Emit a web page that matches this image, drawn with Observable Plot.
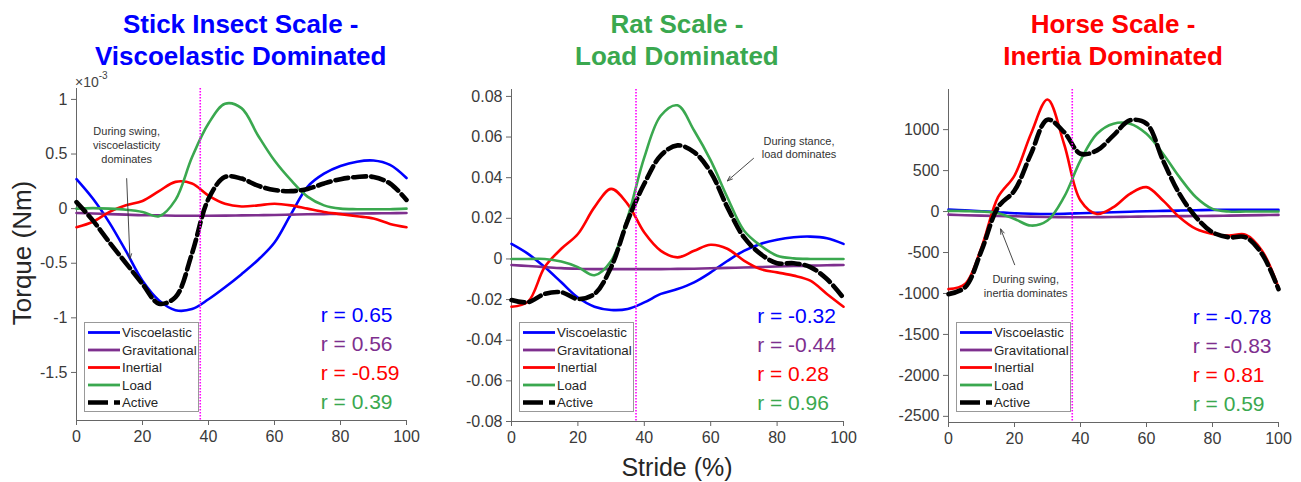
<!DOCTYPE html>
<html><head><meta charset="utf-8">
<script src="https://cdn.jsdelivr.net/npm/d3@7"></script>
<script src="https://cdn.jsdelivr.net/npm/@observablehq/plot@0.6"></script>
<style>
body{margin:0;background:#fff;font-family:"Liberation Sans",Arial,sans-serif;}
#wrap{position:relative;width:1301px;height:482px;overflow:hidden;background:#fff;}
.title{position:absolute;width:420px;font-weight:bold;font-size:26px;line-height:32px;text-align:center;white-space:nowrap;top:8px;}
.panel{position:absolute;top:0;}
.lbl{position:absolute;color:#262626;white-space:nowrap;}
</style></head>
<body><div id="wrap"></div>
<script>
// ---------- data ----------
const stride = [0,5,10,15,20,25,30,35,40,45,50,55,60,65,70,75,80,85,90,95,100];
const seriesNames = ["Viscoelastic","Gravitational","Inertial","Load","Active"];
const seriesColors = ["#0000FF","#7E2F8E","#FF0000","#3AA84F","#000000"];
const titles = [["Stick Insect Scale -","Viscoelastic Dominated"],["Rat Scale -","Load Dominated"],["Horse Scale -","Inertia Dominated"]];
const titleColors = ["#0000FF","#3AA84F","#FF0000"];
const xTicks = [0,20,40,60,80,100];
const stanceX = 37.5;

// Stick insect (x10^-3 Nm)
const insectVisco = [0.27,0.09,-0.13,-0.39,-0.66,-0.84,-0.93,-0.92,-0.83,-0.72,-0.60,-0.47,-0.31,-0.05,0.20,0.32,0.39,0.43,0.44,0.40,0.28];
const insectGrav  = [-0.04,-0.045,-0.05,-0.055,-0.06,-0.062,-0.065,-0.065,-0.065,-0.064,-0.062,-0.06,-0.058,-0.055,-0.052,-0.05,-0.048,-0.045,-0.043,-0.042,-0.04];
const insectInert = [-0.17,-0.12,-0.03,0.03,0.07,0.16,0.245,0.23,0.12,0.045,0.02,0.03,0.045,0.03,0.0,-0.03,-0.05,-0.07,-0.09,-0.14,-0.17];
const insectLoad  = [0,0.005,0,-0.01,-0.03,-0.07,0.08,0.47,0.78,0.96,0.92,0.67,0.44,0.26,0.11,0.03,0,-0.005,-0.005,-0.005,0];
const insectActive= [0.06,-0.11,-0.31,-0.50,-0.69,-0.87,-0.81,-0.41,0.09,0.29,0.275,0.21,0.17,0.16,0.18,0.23,0.27,0.29,0.29,0.23,0.08];
const insectR = [0.65,0.56,-0.59,0.39];
const insectYTicks = [-1.5,-1,-0.5,0,0.5,1];

// Rat (Nm)
const ratVisco = [0.0074,0.0025,-0.004,-0.0115,-0.019,-0.0235,-0.0251,-0.0246,-0.0214,-0.0172,-0.0148,-0.0115,-0.0066,-0.001,0.004,0.0074,0.0095,0.0107,0.011,0.0102,0.0074];
const ratGrav  = [-0.003,-0.0035,-0.004,-0.0045,-0.0048,-0.005,-0.005,-0.005,-0.005,-0.005,-0.0049,-0.0048,-0.0046,-0.0044,-0.0042,-0.004,-0.0037,-0.0035,-0.0033,-0.0031,-0.003];
const ratInert = [-0.0235,-0.021,-0.004,0.005,0.0123,0.0255,0.0345,0.027,0.013,0.004,0.0008,0.004,0.007,0.005,-0.0008,-0.005,-0.0066,-0.0082,-0.0107,-0.0172,-0.0235];
const ratLoad  = [0,0,0,-0.0013,-0.004,-0.008,-0.001,0.0205,0.050,0.0706,0.0756,0.0632,0.0485,0.0304,0.014,0.0066,0.0016,0.0003,0,0,0];
const ratActive= [-0.0202,-0.0213,-0.0172,-0.0164,-0.0197,-0.0172,-0.0041,0.0189,0.037,0.051,0.0559,0.0526,0.0427,0.0255,0.0107,0.0025,-0.0021,-0.0021,-0.004,-0.0099,-0.0192];
const ratR = [-0.32,-0.44,0.28,0.96];
const ratYTicks = [-0.08,-0.06,-0.04,-0.02,0,0.02,0.04,0.06,0.08];

// Horse (Nm)
const horseVisco = [25,15,4,-8,-20,-26,-29,-26,-20,-14,-8,-2,4,8,12,16,20,22,23,22,20];
const horseGrav  = [-37,-45,-50,-54,-57,-62,-66,-68,-70,-68,-66,-63,-61,-58,-56,-54,-53,-50,-47,-44,-41];
const horseInert = [-947,-885,-437,175,440,950,1367,828,135,-29,53,216,298,135,-69,-212,-273,-294,-282,-477,-926];
const horseLoad  = [8,5,0,-20,-90,-171,-110,175,624,950,1073,1073,950,706,420,175,33,0,0,0,0];
const horseActive= [-1008,-926,-477,53,257,706,1122,971,706,747,930,1114,1073,624,216,-69,-253,-314,-314,-518,-947];
const horseR = [-0.78,-0.83,0.81,0.59];
const horseYTicks = [-2500,-2000,-1500,-1000,-500,0,500,1000];

// annotations
const insectNote = {text:"During swing,\nviscoelasticity\ndominates", x:15.2, y:0.584, ax1:15.2, ay1:0.275, ax2:16.2, ay2:-0.46};
const ratNote = {text:"During stance,\nload dominates", x:86.6, y:0.0551, ax1:72.9, ay1:0.0495, ax2:65.0, ay2:0.0384};
const horseNote = {text:"During swing,\ninertia dominates", x:23.4, y:-906, ax1:20.05, ay1:-649, ax2:15.8, ay2:-212};

// ---------- layout ----------
const panels = [
  {series:[insectVisco,insectGrav,insectInert,insectLoad,insectActive], r:insectR, yTicks:insectYTicks, yDomain:[-1.94,1.10], note:insectNote,
   left:0, width:430, mL:76, mR:24, mT:88, mB:62, center:240.7},
  {series:[ratVisco,ratGrav,ratInert,ratLoad,ratActive], r:ratR, yTicks:ratYTicks, yDomain:[-0.08,0.0834], note:ratNote,
   left:435, width:435, mL:76, mR:27, mT:89, mB:61, center:676.9},
  {series:[horseVisco,horseGrav,horseInert,horseLoad,horseActive], r:horseR, yTicks:horseYTicks, yDomain:[-2575,1490], note:horseNote,
   left:870, width:431, mL:78, mR:23, mT:89, mB:60, center:1113}
];

const wrap = document.getElementById("wrap");
const fmt = d => String(+d.toFixed(4));

panels.forEach((p, pi) => {
  const rows = [];
  p.series.forEach((vals, si) => vals.forEach((v, i) => rows.push({stride: stride[i], value: v, series: seriesNames[si]})));
  const colored = rows.filter(d => d.series !== "Active");
  const active = rows.filter(d => d.series === "Active");
  const rMarks = p.r.map((rv, k) => Plot.text([rv], {
    x: () => 74, frameAnchor: "bottom", dy: -99 + 29.3 * k, text: d => "r = " + d.toFixed(2),
    fill: seriesColors[k], fontSize: 21, textAnchor: "start", fontFamily: "Liberation Sans, Arial, sans-serif"
  }));
  const chart = Plot.plot({
    width: p.width, height: 482,
    marginLeft: p.mL, marginRight: p.mR, marginTop: p.mT, marginBottom: p.mB,
    style: {fontFamily: "Liberation Sans, Arial, sans-serif", fontSize: "16px", color: "#3a3a3a", background: "transparent", overflow: "visible"},
    x: {domain: [0, 100], axis: null},
    y: {domain: p.yDomain, axis: null},
    color: {domain: seriesNames, range: seriesColors},
    marks: [
      Plot.ruleX([0], {stroke: "#666", strokeWidth: 1}),
      Plot.ruleY([p.yDomain[0]], {stroke: "#666", strokeWidth: 1}),
      Plot.axisX({ticks: xTicks, tickSize: 5, tickPadding: 5, tickFormat: d => String(d), label: null, stroke: "#666", fontSize: 16}),
      Plot.axisY({ticks: p.yTicks, tickSize: 5, tickPadding: 4, tickFormat: fmt, label: null, stroke: "#666", fontSize: 16}),
      Plot.line(colored, {x: "stride", y: "value", z: "series", stroke: "series", strokeWidth: 2.6, curve: "catmull-rom"}),
      Plot.line(active, {x: "stride", y: "value", stroke: "#000", strokeWidth: 4.6, strokeDasharray: "13,5", curve: "catmull-rom"}),
      Plot.ruleX([stanceX], {stroke: "#FF00FF", strokeWidth: 1.6, strokeDasharray: "1.5,1.5"}),
      Plot.text([p.note], {x: "x", y: "y", text: "text", fontSize: 11, fill: "#333", lineHeight: 1.27, textAnchor: "middle"}),
      Plot.arrow([p.note], {x1: "ax1", y1: "ay1", x2: "ax2", y2: "ay2", stroke: "#333", strokeWidth: 0.9, headLength: 9, headAngle: 40}),
      ...rMarks
    ]
  });
  const div = document.createElement("div");
  div.className = "panel";
  div.style.left = p.left + "px";
  div.appendChild(chart);
  wrap.appendChild(div);

  // title
  const t = document.createElement("div");
  t.className = "title";
  t.style.left = (p.center - 210) + "px";
  t.style.color = titleColors[pi];
  t.innerHTML = titles[pi][0] + "<br>" + titles[pi][1];
  wrap.appendChild(t);

  // legend
  const lx = p.left + p.mL + 8, ly = 322;
  const svg = d3.select(wrap).append("svg")
    .attr("width", 116).attr("height", 91)
    .style("position", "absolute").style("left", lx + "px").style("top", ly + "px");
  svg.append("rect").attr("x", 0.5).attr("y", 0.5).attr("width", 114).attr("height", 89)
    .attr("fill", "#fff").attr("stroke", "#999").attr("stroke-width", 1);
  seriesNames.forEach((name, i) => {
    const yy = 10.5 + i * 17.5;
    const isActive = name === "Active";
    svg.append("line").attr("x1", 4).attr("x2", 36).attr("y1", yy).attr("y2", yy)
      .attr("stroke", seriesColors[i]).attr("stroke-width", isActive ? 4.6 : 2.8)
      .attr("stroke-dasharray", isActive ? "20,6" : null);
    svg.append("text").attr("x", 38).attr("y", yy).attr("dy", "0.35em")
      .attr("font-size", 13.3).attr("fill", "#262626")
      .attr("font-family", "Liberation Sans, Arial, sans-serif").text(name);
  });
});

// axis labels
const yl = document.createElement("div");
yl.className = "lbl";
yl.style.cssText += "left:22px;top:253px;font-size:26px;transform:translate(-50%,-50%) rotate(-90deg);";
yl.textContent = "Torque (Nm)";
wrap.appendChild(yl);

const xl = document.createElement("div");
xl.className = "lbl";
xl.style.cssText += "left:677px;top:467px;font-size:25px;transform:translate(-50%,-50%);";
xl.textContent = "Stride (%)";
wrap.appendChild(xl);

const ex = document.createElement("div");
ex.className = "lbl";
ex.style.cssText += "left:75px;top:72px;font-size:14px;color:#444;";
ex.innerHTML = "×10<sup style='font-size:10px;position:relative;top:-2px'>-3</sup>";
wrap.appendChild(ex);
</script></body></html>
